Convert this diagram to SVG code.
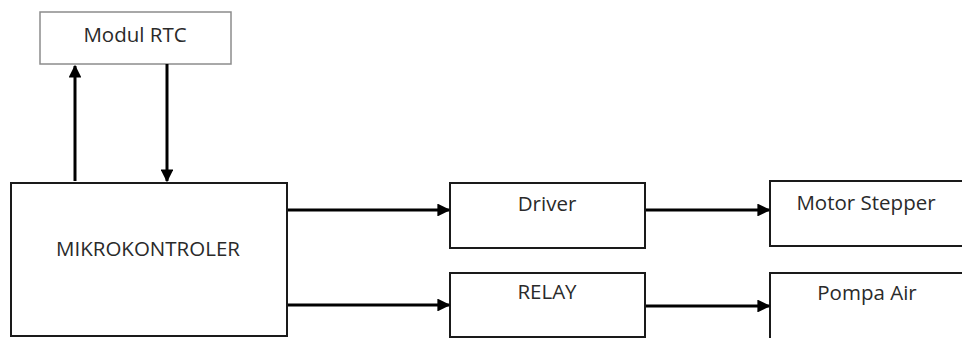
<svg xmlns="http://www.w3.org/2000/svg" width="962" height="338" viewBox="0 0 962 338">
<defs>
<style>
.box{fill:#fff;stroke:#1a1a1a;stroke-width:2}
.box2{fill:#fff;stroke:#8c8c8c;stroke-width:1.5}
.t{font-family:"Open Sans","Noto Sans","Liberation Sans",sans-serif;font-size:20.5px;fill:#2a2a2a;text-anchor:middle}
.c{stroke:#000;stroke-width:3;fill:none}
</style>
<marker id="ah" viewBox="0 0 10 10" refX="9" refY="5" markerWidth="4.3" markerHeight="4.3" orient="auto" markerUnits="strokeWidth">
<path d="M0,0 L10,5 L0,10 z" fill="#000"/>
</marker>
</defs>
<rect width="962" height="338" fill="#fff"/>
<g id="rtc"><rect class="box2" x="40" y="12" width="191" height="52"/><text class="t" x="135" y="42">Modul RTC</text></g>
<g id="mikro"><rect class="box" x="11" y="183" width="276" height="153"/><text class="t" x="148" y="256">MIKROKONTROLER</text></g>
<g id="driver"><rect class="box" x="450" y="183" width="195" height="65"/><text class="t" x="547" y="211">Driver</text></g>
<g id="relay"><rect class="box" x="450" y="273" width="195" height="64"/><text class="t" x="547" y="299">RELAY</text></g>
<g id="motor"><rect class="box" x="770" y="181" width="200" height="65"/><text class="t" x="866" y="210">Motor Stepper</text></g>
<g id="pompa"><rect class="box" x="770" y="273" width="200" height="70"/><text class="t" x="867" y="300">Pompa Air</text></g>
<g id="connectors">
<line class="c" x1="75" y1="181" x2="75" y2="66" marker-end="url(#ah)"/>
<line class="c" x1="167" y1="64" x2="167" y2="181" marker-end="url(#ah)"/>
<line class="c" x1="288" y1="210" x2="449" y2="210" marker-end="url(#ah)"/>
<line class="c" x1="288" y1="305" x2="449" y2="305" marker-end="url(#ah)"/>
<line class="c" x1="646" y1="210" x2="769" y2="210" marker-end="url(#ah)"/>
<line class="c" x1="646" y1="306" x2="769" y2="306" marker-end="url(#ah)"/>
</g>
</svg>
